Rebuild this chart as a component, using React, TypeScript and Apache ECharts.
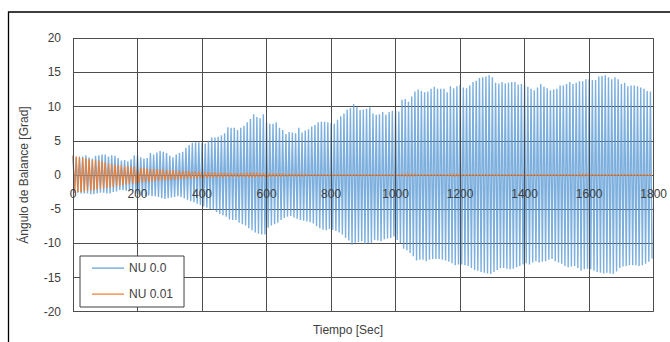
import React, { useEffect, useRef } from "react";
import * as echarts from "echarts";

// Time between two successive positive peaks (s); negative peak in between.
const PEAK_STEP = 10;

const xTickValues = [0, 200, 400, 600, 800, 1000, 1200, 1400, 1600, 1800];
const yTickValues = [-20, -15, -10, -5, 0, 5, 10, 15, 20];

// NU 0.0 positive peaks at t = 0, 10, 20, ... 1790 s
const blueUpper = [
  2.7, 2.6, 2.7, 2.7, 2.9, 2.6, 2.4, 2.8, 2.9, 3.0,
  3.0, 2.7, 2.9, 2.8, 2.5, 2.1, 2.2, 2.0, 2.3, 2.9,
  2.9, 2.6, 2.4, 2.5, 3.2, 3.0, 3.3, 3.5, 3.4, 3.2,
  2.8, 2.6, 3.0, 3.2, 3.4, 4.0, 4.4, 4.7, 4.8, 4.8,
  4.7, 4.6, 5.0, 5.5, 5.5, 5.6, 5.8, 6.1, 7.0, 6.9,
  6.9, 6.6, 6.9, 7.2, 7.7, 8.2, 8.9, 8.5, 8.3, 8.9,
  7.7, 7.5, 7.5, 7.7, 6.9, 6.6, 6.0, 6.3, 6.2, 6.1,
  6.9, 6.2, 6.5, 6.7, 7.1, 7.3, 7.7, 7.8, 7.8, 7.7,
  7.6, 7.5, 8.1, 8.6, 9.0, 9.6, 9.8, 10.4, 9.9, 9.5,
  9.6, 9.7, 9.9, 9.0, 8.8, 8.9, 9.2, 8.8, 9.2, 9.4,
  9.4, 9.3, 11.0, 11.1, 10.7, 11.5, 12.2, 12.5, 12.3, 12.1,
  12.2, 12.6, 12.9, 12.6, 12.6, 12.6, 12.1, 13.0, 12.7, 13.0,
  13.2, 12.8, 12.7, 13.1, 13.6, 13.8, 14.2, 14.3, 14.4, 14.6,
  14.3, 13.5, 13.4, 13.6, 13.4, 13.5, 13.6, 13.6, 13.2, 13.3,
  13.2, 12.9, 12.6, 12.4, 12.8, 13.3, 12.9, 12.7, 12.4, 12.5,
  12.6, 13.1, 13.1, 13.3, 13.6, 13.3, 13.5, 13.7, 13.7, 14.0,
  14.0, 13.9, 13.9, 14.4, 14.5, 14.6, 14.3, 14.0, 14.3, 14.0,
  13.3, 13.5, 13.0, 13.1, 13.1, 13.0, 12.8, 12.6, 12.3, 12.2,
];

// NU 0.0 negative peaks at t = 5, 15, 25, ... 1795 s
const blueLower = [
  -2.6, -2.6, -2.7, -2.7, -2.7, -2.8, -2.8, -2.7, -2.6, -2.6,
  -2.7, -2.7, -2.5, -2.4, -2.2, -2.2, -2.3, -2.3, -2.4, -2.7,
  -2.9, -3.0, -3.1, -3.0, -3.1, -3.1, -3.2, -3.4, -3.5, -3.4,
  -3.3, -3.2, -3.1, -3.2, -3.4, -3.6, -3.8, -4.0, -4.2, -4.4,
  -4.6, -4.8, -5.0, -5.1, -5.4, -5.7, -5.9, -6.1, -6.5, -6.6,
  -6.6, -7.0, -7.2, -7.4, -7.8, -8.1, -8.4, -8.6, -8.7, -8.7,
  -7.7, -7.4, -7.2, -7.0, -6.6, -6.3, -6.1, -6.0, -6.2, -6.4,
  -6.6, -6.7, -6.8, -6.9, -7.1, -7.5, -7.8, -8.0, -8.1, -7.9,
  -8.0, -8.2, -8.4, -8.7, -9.2, -9.6, -10.2, -9.9, -9.8, -9.7,
  -10.1, -10.0, -9.9, -9.5, -9.6, -9.7, -9.4, -9.3, -9.2, -9.0,
  -9.5, -10.0, -10.8, -11.0, -11.4, -11.9, -12.5, -12.4, -12.4, -12.6,
  -12.4, -12.3, -12.3, -12.3, -12.4, -12.5, -12.7, -12.9, -13.2, -13.1,
  -13.1, -13.2, -13.3, -13.6, -13.9, -14.0, -14.2, -14.3, -14.4, -14.5,
  -14.2, -13.9, -13.6, -13.6, -13.7, -13.8, -13.7, -13.5, -13.3, -13.1,
  -12.9, -13.1, -12.8, -12.6, -12.8, -12.7, -12.6, -12.4, -12.3, -12.6,
  -12.8, -13.0, -13.3, -13.5, -13.4, -13.3, -13.6, -14.0, -13.8, -13.7,
  -13.8, -14.0, -14.2, -14.3, -14.4, -14.3, -14.4, -14.5, -14.1, -13.6,
  -13.4, -13.3, -13.2, -13.2, -13.2, -13.3, -13.2, -13.0, -12.7, -12.2,
];

// NU 0.01 positive peaks at t = 0, 10, ... 1790 s
const orangeUpper = [
  2.9, 2.7, 2.6, 2.5, 2.4, 2.3, 2.2, 2.2, 2.1, 2.0,
  1.8, 1.7, 1.6, 1.5, 1.4, 1.4, 1.3, 1.25, 1.2, 1.2,
  1.1, 1.05, 1.0, 0.95, 0.9, 0.9, 0.85, 0.8, 0.8, 0.75,
  0.7, 0.7, 0.65, 0.6, 0.6, 0.6, 0.55, 0.5, 0.5, 0.5,
  0.45, 0.45, 0.4, 0.4, 0.4, 0.35, 0.35, 0.35, 0.3, 0.3,
  0.3, 0.3, 0.3, 0.3, 0.35, 0.35, 0.4, 0.35, 0.3, 0.3,
  0.3, 0.3, 0.25, 0.25, 0.25, 0.25, 0.2, 0.2, 0.2, 0.2,
  0.2, 0.2, 0.2, 0.15, 0.15, 0.15, 0.15, 0.15, 0.15, 0.15,
  0.15, 0.15, 0.15, 0.15, 0.15, 0.15, 0.15, 0.15, 0.15, 0.15,
  0.15, 0.15, 0.15, 0.15, 0.15, 0.15, 0.15, 0.15, 0.15, 0.15,
  0.15, 0.15, 0.2, 0.2, 0.2, 0.2, 0.2, 0.15, 0.15, 0.15,
  0.15, 0.15, 0.15, 0.15, 0.15, 0.15, 0.15, 0.2, 0.2, 0.2,
  0.2, 0.15, 0.15, 0.15, 0.15, 0.15, 0.15, 0.15, 0.15, 0.15,
  0.15, 0.15, 0.15, 0.15, 0.15, 0.15, 0.15, 0.15, 0.15, 0.15,
  0.15, 0.15, 0.15, 0.15, 0.15, 0.15, 0.15, 0.15, 0.15, 0.15,
  0.15, 0.15, 0.15, 0.15, 0.15, 0.15, 0.15, 0.2, 0.2, 0.2,
  0.2, 0.15, 0.15, 0.15, 0.15, 0.15, 0.15, 0.15, 0.15, 0.15,
  0.15, 0.15, 0.15, 0.15, 0.15, 0.15, 0.15, 0.15, 0.15, 0.15,
];

// NU 0.01 negative peaks at t = 5, 15, ... 1795 s
const orangeLower = [
  -2.6, -2.5, -2.5, -2.4, -2.3, -2.3, -2.2, -2.1, -2.0, -2.0,
  -1.9, -1.8, -1.75, -1.65, -1.55, -1.45, -1.35, -1.3, -1.25, -1.2,
  -1.15, -1.1, -1.05, -1.0, -0.95, -0.9, -0.85, -0.8, -0.8, -0.75,
  -0.7, -0.7, -0.65, -0.6, -0.6, -0.55, -0.55, -0.5, -0.5, -0.45,
  -0.45, -0.4, -0.4, -0.4, -0.35, -0.35, -0.35, -0.3, -0.3, -0.3,
  -0.3, -0.3, -0.3, -0.3, -0.35, -0.35, -0.35, -0.3, -0.3, -0.3,
  -0.3, -0.25, -0.25, -0.25, -0.25, -0.2, -0.2, -0.2, -0.2, -0.2,
  -0.2, -0.2, -0.15, -0.15, -0.15, -0.15, -0.15, -0.15, -0.15, -0.15,
  -0.15, -0.15, -0.15, -0.15, -0.15, -0.15, -0.15, -0.15, -0.15, -0.15,
  -0.15, -0.15, -0.15, -0.15, -0.15, -0.15, -0.15, -0.15, -0.15, -0.15,
  -0.15, -0.15, -0.2, -0.2, -0.2, -0.2, -0.15, -0.15, -0.15, -0.15,
  -0.15, -0.15, -0.15, -0.15, -0.15, -0.15, -0.15, -0.2, -0.2, -0.2,
  -0.15, -0.15, -0.15, -0.15, -0.15, -0.15, -0.15, -0.15, -0.15, -0.15,
  -0.15, -0.15, -0.15, -0.15, -0.15, -0.15, -0.15, -0.15, -0.15, -0.15,
  -0.15, -0.15, -0.15, -0.15, -0.15, -0.15, -0.15, -0.15, -0.15, -0.15,
  -0.15, -0.15, -0.15, -0.15, -0.15, -0.15, -0.15, -0.2, -0.2, -0.15,
  -0.15, -0.15, -0.15, -0.15, -0.15, -0.15, -0.15, -0.15, -0.15, -0.15,
  -0.15, -0.15, -0.15, -0.15, -0.15, -0.15, -0.15, -0.15, -0.15, -0.15,
];

const seriesNames = ["NU 0.0", "NU 0.01"];
const seriesColors = ["#5B9BD5", "#ED7D31"];

function buildPeaks(upper: number[], lower: number[]): number[][] {
  const pts: number[][] = [];
  for (let i = 0; i < upper.length; i++) {
    pts.push([i * PEAK_STEP, upper[i]]);
    pts.push([i * PEAK_STEP + PEAK_STEP / 2, lower[i]]);
  }
  return pts;
}

const FONT = "'Liberation Sans', Arial, sans-serif";
const TEXT = "#404040";
const GRID = "#4d4d4d";
// thin horizontal bar icon for the legend (bounding points keep it 32x14)
const LEGEND_LINE_ICON = "path://M0,0M32,14M0,6.5L32,6.5L32,7.7L0,7.7Z";

// plot area in pixels
const GRID_TOP = 38.3;
const GRID_BOTTOM = 30.3;
const PLOT_H = 342 - GRID_TOP - GRID_BOTTOM;
// lift the x axis from the bottom edge to y = 0 (Excel "cross at 0")
const X_AXIS_OFFSET =
  -PLOT_H * ((0 - yTickValues[0]) / (yTickValues[yTickValues.length - 1] - yTickValues[0]));

export default function App() {
  const ref = useRef<HTMLDivElement>(null);
  useEffect(() => {
    if (!ref.current) return;
    const chart = echarts.init(ref.current, undefined, { renderer: "svg" });
    chart.setOption({
      animation: false,
      backgroundColor: "#ffffff",
      textStyle: { fontFamily: FONT },
      grid: { left: 73, right: 14.5, top: GRID_TOP, bottom: GRID_BOTTOM, containLabel: false },
      legend: {
        show: true,
        data: seriesNames.map((n) => ({ name: n, icon: LEGEND_LINE_ICON })),
        orient: "vertical",
        left: 80,
        top: 256,
        itemWidth: 32,
        itemHeight: 14,
        itemGap: 12,
        padding: [5, 11, 6, 12],
        backgroundColor: "#ffffff",
        borderColor: TEXT,
        borderWidth: 1,
        borderRadius: 0,
        textStyle: { fontSize: 12, color: TEXT, fontFamily: FONT },
      },
      xAxis: {
        type: "value",
        position: "bottom",
        offset: X_AXIS_OFFSET,
        min: xTickValues[0],
        max: xTickValues[xTickValues.length - 1],
        interval: xTickValues[1] - xTickValues[0],
        z: 3,
        axisLine: { show: true, onZero: false, lineStyle: { color: "rgba(0,0,0,0)" } },
        axisTick: { show: false },
        axisLabel: {
          fontSize: 12,
          color: TEXT,
          margin: 13,
          fontFamily: FONT,
          showMaxLabel: true,
          showMinLabel: true,
          hideOverlap: false,
          formatter: (v: number) => String(v),
        },
        splitLine: { show: true, lineStyle: { color: GRID, width: 1 } },
      },
      yAxis: {
        type: "value",
        min: yTickValues[0],
        max: yTickValues[yTickValues.length - 1],
        interval: yTickValues[1] - yTickValues[0],
        name: "Ángulo de Balance [Grad]",
        nameLocation: "middle",
        nameGap: 43,
        nameTextStyle: { fontSize: 12, color: TEXT, fontFamily: FONT },
        axisLine: { show: true, onZero: false, lineStyle: { color: GRID, width: 1 } },
        axisTick: { show: false },
        axisLabel: { fontSize: 12, color: TEXT, margin: 12, fontFamily: FONT },
        splitLine: { show: true, lineStyle: { color: GRID, width: 1 } },
      },
      graphic: [
        {
          type: "rect",
          silent: true,
          shape: { x: 8.5, y: 12, width: 670, height: 340 },
          style: { fill: "none", stroke: "#000000", lineWidth: 1.3 },
        },
        {
          type: "text",
          silent: true,
          x: 348,
          y: 330,
          style: {
            text: "Tiempo [Sec]",
            fill: TEXT,
            fontSize: 12,
            fontFamily: FONT,
            align: "center",
            verticalAlign: "middle",
          },
        },
      ],
      series: [
        {
          name: seriesNames[0],
          type: "line",
          data: buildPeaks(blueUpper, blueLower),
          symbol: "none",
          color: seriesColors[0],
          lineStyle: { width: 1.4, color: seriesColors[0], opacity: 0.8 },
          z: 2,
        },
        {
          name: seriesNames[1],
          type: "line",
          data: buildPeaks(orangeUpper, orangeLower),
          symbol: "none",
          color: seriesColors[1],
          lineStyle: { width: 1, color: seriesColors[1] },
          z: 2,
        },
      ],
    });
    return () => chart.dispose();
  }, []);
  return (
    <div
      ref={ref}
      style={{ position: "fixed", left: 0, top: 0, width: 670, height: 342 }}
    />
  );
}
